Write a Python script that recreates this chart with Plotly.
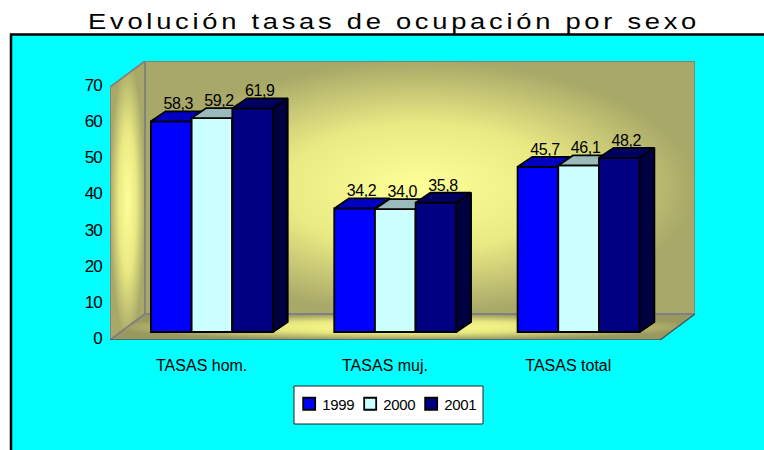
import plotly.graph_objects as go

categories = ["TASAS hom.", "TASAS muj.", "TASAS total"]
series_names = ["1999", "2000", "2001"]
values_1999 = [58.3, 34.2, 45.7]
values_2000 = [59.2, 34.0, 46.1]
values_2001 = [61.9, 35.8, 48.2]
y_ticks = [0, 10, 20, 30, 40, 50, 60, 70]
title_text = "Evolución tasas de ocupación por sexo"

W, H = 764, 450
# plot frame in pixels and scale factors
L, R, T, B = 110, 695, 61, 340
PX_PER_CAT = 183.33
PX_PER_UNIT = 3.614
XMIN = -0.5
XMAX = XMIN + (R - L) / PX_PER_CAT
YMAX = (B - T) / PX_PER_UNIT
WALL_DX = 35 / PX_PER_CAT
WALL_DY = 26 / PX_PER_UNIT
FRONT_X = XMIN + 550 / PX_PER_CAT
BAR_SHIFT_X = 10.3 / PX_PER_CAT
BAR_BASE = 8 / PX_PER_UNIT
BAR_W = 40.7 / PX_PER_CAT
BAR_DX = 14.7 / PX_PER_CAT
BAR_DY = 10 / PX_PER_UNIT
LABEL_DX = 7 / PX_PER_CAT
LABEL_DY = 8 / PX_PER_UNIT

FONT = "Liberation Sans, Arial, sans-serif"
front_cols = ["#0000FF", "#CCFFFF", "#000080"]
top_cols = ["#0000C0", "#99BBBB", "#000060"]
side_cols = ["#000099", "#7FAAAA", "#000040"]
wall_scale = [[0, "#FFFF99"], [0.5, "#EAEA84"], [1, "#A8A868"]]
floor_scale = [[0, "#FFFF8C"], [0.5, "#E6E680"], [1, "#989860"]]
GRAY = "#808080"
EDGE = 1.8

fig = go.Figure()


def poly(xs, ys, xa, ya, **kw):
    fig.add_trace(go.Scatter(x=xs, y=ys, xaxis=xa, yaxis=ya, mode="lines", fill="toself",
                             showlegend=False, hoverinfo="skip", cliponaxis=False, **kw))


# walls, on the base axes
poly([XMIN + WALL_DX, XMAX, XMAX, XMIN + WALL_DX, XMIN + WALL_DX], [WALL_DY, WALL_DY, YMAX, YMAX, WALL_DY], "x", "y",
     line=dict(color=GRAY, width=1.8),
     fillgradient=dict(type="radial", colorscale=wall_scale))
poly([XMIN, XMIN + WALL_DX, XMIN + WALL_DX, XMIN, XMIN], [0, WALL_DY, YMAX, 70, 0], "x", "y",
     line=dict(color=GRAY, width=1.8),
     fillgradient=dict(type="radial", colorscale=wall_scale))
poly([XMIN, FRONT_X, XMAX, XMIN + WALL_DX, XMIN], [0, 0, WALL_DY, WALL_DY, 0], "x", "y",
     line=dict(color=GRAY, width=1.8),
     fillgradient=dict(type="radial", colorscale=floor_scale))
fig.add_trace(go.Scatter(x=[XMIN, FRONT_X, XMAX], y=[0, 0, WALL_DY], mode="lines", showlegend=False, hoverinfo="skip",
                         cliponaxis=False, line=dict(color="#006060", width=1)))

# one overlaid axis pair per series, so later series cover the side faces of earlier ones
all_values = [values_1999, values_2000, values_2001]
for s, (name, vals) in enumerate(zip(series_names, all_values)):
    xa, ya = f"x{s + 2}", f"y{s + 2}"
    offset = (s - 1) * BAR_W
    centers = [i + BAR_SHIFT_X + offset for i in range(len(vals))]
    fig.add_trace(go.Bar(x=centers, y=vals, base=[BAR_BASE] * len(vals), width=BAR_W, name=name, xaxis=xa, yaxis=ya,
                         marker=dict(color=front_cols[s], line=dict(color="black", width=EDGE)),
                         hovertemplate="%{y}<extra>" + name + "</extra>"))
    for c, v in zip(centers, vals):
        x0, x1 = c - BAR_W / 2, c + BAR_W / 2
        t = v + BAR_BASE
        poly([x0, x1, x1 + BAR_DX, x0 + BAR_DX, x0], [t, t, t + BAR_DY, t + BAR_DY, t], xa, ya,
             fillcolor=top_cols[s], line=dict(color="black", width=EDGE))
        poly([x1, x1 + BAR_DX, x1 + BAR_DX, x1, x1], [BAR_BASE, BAR_BASE + BAR_DY, t + BAR_DY, t, BAR_BASE], xa, ya,
             fillcolor=side_cols[s], line=dict(color="black", width=EDGE))
    fig.add_trace(go.Scatter(x=[c + LABEL_DX for c in centers], y=[v + BAR_BASE + LABEL_DY for v in vals],
                             xaxis=xa, yaxis=ya, mode="text", textposition="top center",
                             text=[f"{v:.1f}".replace(".", ",") for v in vals],
                             textfont=dict(family=FONT, size=16, color="black"),
                             showlegend=False, hoverinfo="skip", cliponaxis=False))

layout_axes = {}
for i in range(2, 5):
    layout_axes[f"xaxis{i}"] = dict(overlaying="x", range=[XMIN, XMAX], visible=False, fixedrange=True)
    layout_axes[f"yaxis{i}"] = dict(overlaying="y", range=[0, YMAX], visible=False, fixedrange=True)

fig.update_layout(
    width=W, height=H, autosize=False,
    margin=dict(l=L, r=W - R, t=T, b=H - B, pad=0, autoexpand=False),
    paper_bgcolor="white", plot_bgcolor="rgba(0,0,0,0)",
    barmode="overlay", showlegend=True,
    title=dict(text=title_text, x=371 / W, xanchor="center", xref="paper", y=1 - 21 / H, yanchor="middle", yref="container",
               font=dict(family=FONT, size=22, color="black")),
    xaxis=dict(range=[XMIN, XMAX], tickmode="array", tickvals=list(range(3)), ticktext=categories,
               ticks="outside", ticklen=11, tickcolor="rgba(0,0,0,0)", showgrid=False, zeroline=False, showline=False,
               tickfont=dict(family=FONT, size=16, color="black"), fixedrange=True),
    yaxis=dict(range=[0, YMAX], tickmode="array", tickvals=y_ticks,
               ticks="outside", ticklen=4, tickcolor="rgba(0,0,0,0)", showgrid=False, zeroline=False, showline=False,
               tickfont=dict(family=FONT, size=17, color="black"), fixedrange=True),
    legend=dict(orientation="h", x=234 / W, xanchor="left", y=1 - 404 / H, yanchor="middle", yref="container",
                bgcolor="rgba(0,0,0,0)", borderwidth=0, entrywidth=16, entrywidthmode="pixels",
                font=dict(family=FONT, size=15, color="black")),
    shapes=[
        dict(type="rect", xref="paper", yref="paper", x0=-99 / 585, x1=1.2, y0=-0.6, y1=1 + 26.5 / 279,
             layer="below", fillcolor="#00FFFF", line=dict(color="black", width=2.5)),
        dict(type="rect", xref="paper", yref="paper", x0=(294 - L) / 585, x1=(483 - L) / 585,
             y0=(B - 424) / 279, y1=(B - 386) / 279, layer="below", fillcolor="white", line=dict(color="#222222", width=1)),
    ],
    **layout_axes,
)

post = """
document.body.style.margin = '0';
document.querySelectorAll('.gtitle').forEach(e => {
  e.style.letterSpacing = '3px';
  e.setAttribute('textLength', '612');
  e.setAttribute('lengthAdjust', 'spacingAndGlyphs');
});
document.querySelectorAll('.ytick text').forEach(e => e.style.letterSpacing = '-1px');
document.querySelectorAll('.yaxislayer-above').forEach(e => e.setAttribute('transform', 'translate(0,-2)'));
document.querySelectorAll('.textpoint text').forEach(e => e.style.letterSpacing = '-0.4px');
document.querySelectorAll('.legendtext').forEach(e => { e.setAttribute('x', 33); e.style.letterSpacing = '-0.3px'; });
document.querySelectorAll('.legend .scrollbox').forEach(e => e.removeAttribute('clip-path'));
"""
fig.write_html("out.html", post_script=post, config=dict(displayModeBar=False))
